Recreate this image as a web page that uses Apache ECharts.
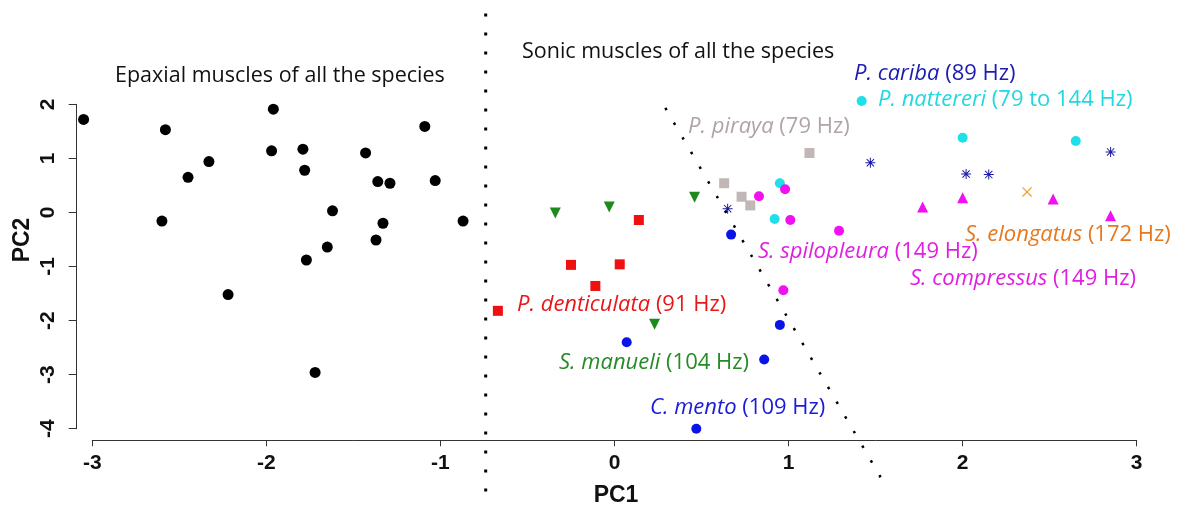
<!DOCTYPE html>
<html>
<head>
<meta charset="utf-8">
<script src="https://cdn.jsdelivr.net/npm/echarts@6/dist/echarts.min.js"></script>
<style>
html,body{margin:0;padding:0;background:#fff;}
#chart{width:1181px;height:508px;}
</style>
</head>
<body>
<div id="chart"></div>
<script>
// ---- Data (PC1, PC2) ----
var epaxial = [
  [-3.05, 1.72], [-2.58, 1.53], [-2.60, -0.16], [-2.45, 0.65], [-2.33, 0.94],
  [-2.22, -1.52], [-1.96, 1.91], [-1.97, 1.14], [-1.79, 1.17], [-1.78, 0.78],
  [-1.77, -0.88], [-1.72, -2.96], [-1.62, 0.03], [-1.65, -0.64], [-1.43, 1.10],
  [-1.36, 0.57], [-1.29, 0.54], [-1.33, -0.20], [-1.37, -0.51], [-1.09, 1.59],
  [-1.03, 0.59], [-0.87, -0.16]
];
var pDenticulata = [[-0.67, -1.82], [-0.25, -0.97], [-0.11, -1.36], [0.03, -0.96], [0.14, -0.14]];
var sManueli = [[-0.34, -0.01], [-0.03, 0.10], [0.46, 0.28], [0.23, -2.07]];
var cMento = [[0.67, -0.41], [0.95, -2.08], [0.86, -2.72], [0.07, -2.40], [0.47, -4.00]];
var pPiraya = [[1.12, 1.10], [0.63, 0.54], [0.73, 0.29], [0.78, 0.13]];
var pNattereri = [[0.95, 0.54], [0.92, -0.12], [1.42, 2.06], [2.00, 1.38], [2.65, 1.32]];
var sSpilopleura = [[0.83, 0.30], [0.98, 0.43], [1.01, -0.14], [1.29, -0.34], [0.97, -1.44]];
var pCariba = [[0.65, 0.07], [1.47, 0.92], [2.02, 0.71], [2.15, 0.70], [2.85, 1.12]];
var sElongatus = [[2.37, 0.38]];
var sCompressus = [[1.77, 0.10], [2.00, 0.27], [2.52, 0.25], [2.85, -0.06]];

// separator lines (data units)
var verticalDivider = [[-0.74, 3.68], [-0.74, -5.32]];
var diagonalDivider = [[0.292, 1.933], [1.56, -5.07]];

var xTicks = [-3, -2, -1, 0, 1, 2, 3];
var yTicks = [-4, -3, -2, -1, 0, 1, 2];

var asterisk = 'path://M4.5 0h1v10h-1zM0 4.5h10v1h-10zM1 1.7L1.7 1L9 8.3L8.3 9zM8.3 1L9 1.7L1.7 9L1 8.3z';
var cross = 'path://M1 1.7L1.7 1L9 8.3L8.3 9zM8.3 1L9 1.7L1.7 9L1 8.3z';

var txtFont = '"Open Sans", sans-serif';
var labSize = 22;

function sc(data, color, symbol, size, rotate) {
  return {
    type: 'scatter', data: data, symbol: symbol, symbolSize: size,
    symbolRotate: rotate || 0, clip: false, silent: true,
    itemStyle: { color: color, opacity: 1 }
  };
}

function lab(x, y, ital, rest, color) {
  return {
    type: 'text', x: x, y: y, silent: true,
    style: {
      text: '{i|' + ital + '} ' + rest,
      fill: color, fontSize: labSize, fontFamily: txtFont,
      align: 'left', verticalAlign: 'middle',
      rich: { i: { fontStyle: 'italic', fill: color, fontSize: labSize, fontFamily: txtFont } }
    }
  };
}

var chart = echarts.init(document.getElementById('chart'), null, { renderer: 'canvas' });
chart.setOption({
  animation: false,
  backgroundColor: '#ffffff',
  grid: { left: 92.3, right: 44.3, top: 104.3, bottom: 79.3 },
  xAxis: {
    type: 'value', min: xTicks[0], max: xTicks[xTicks.length - 1], interval: 1,
    offset: 11.6,
    axisLine: { show: true, onZero: false, lineStyle: { color: '#333', width: 1 } },
    axisTick: { show: true, length: 6, lineStyle: { color: '#333' } },
    axisLabel: { fontSize: 21, fontWeight: 'bold', color: '#111', margin: 12,
                 fontFamily: '"Liberation Sans", Arial, sans-serif' },
    splitLine: { show: false }
  },
  yAxis: {
    type: 'value', min: yTicks[0], max: yTicks[yTicks.length - 1], interval: 1,
    offset: 15.6,
    axisLine: { show: true, onZero: false, lineStyle: { color: '#333', width: 1 } },
    axisTick: { show: true, length: 8, lineStyle: { color: '#333' } },
    axisLabel: { fontSize: 21, fontWeight: 'bold', color: '#111', margin: 18, rotate: 90,
                 fontFamily: '"Liberation Sans", Arial, sans-serif' },
    splitLine: { show: false }
  },
  series: [
    { type: 'line', data: verticalDivider, symbol: 'none', clip: false, silent: true,
      lineStyle: { color: '#000', width: 3, type: [3, 16], cap: 'butt' } },
    { type: 'line', data: diagonalDivider, symbol: 'none', clip: false, silent: true,
      lineStyle: { color: '#000', width: 2.5, type: [2.5, 14.5], cap: 'butt' } },
    sc(epaxial, '#000000', 'circle', 11),
    sc(pDenticulata, '#f01010', 'rect', 10),
    sc(sManueli, '#1e8a1e', 'triangle', 11, 180),
    sc(cMento, '#0a14e6', 'circle', 10),
    sc(pPiraya, '#c2b6b6', 'rect', 10),
    sc(pNattereri, '#1fe0e8', 'circle', 10),
    sc(sSpilopleura, '#f010f0', 'circle', 10),
    sc(pCariba, '#1c1ca8', asterisk, 10),
    sc(sElongatus, '#f0a030', cross, 10),
    sc(sCompressus, '#f010f0', 'triangle', 11)
  ],
  graphic: [
    { type: 'text', x: 115, y: 76, silent: true,
      style: { text: 'Epaxial muscles of all the species', fill: '#111', fontSize: 21.5,
               fontFamily: txtFont, align: 'left', verticalAlign: 'middle' } },
    { type: 'text', x: 522, y: 52, silent: true,
      style: { text: 'Sonic muscles of all the species', fill: '#111', fontSize: 21.5,
               fontFamily: txtFont, align: 'left', verticalAlign: 'middle' } },
    { type: 'text', x: 616, y: 496, silent: true,
      style: { text: 'PC1', fill: '#111', fontSize: 23, fontWeight: 'bold',
               fontFamily: '"Liberation Sans", Arial, sans-serif', align: 'center', verticalAlign: 'middle' } },
    { type: 'text', x: 23, y: 240, rotation: Math.PI / 2, silent: true,
      style: { text: 'PC2', fill: '#111', fontSize: 23, fontWeight: 'bold',
               fontFamily: '"Liberation Sans", Arial, sans-serif', align: 'center', verticalAlign: 'middle' } },
    lab(854, 74, 'P. cariba', '(89 Hz)', '#1c1cb0'),
    lab(878, 100, 'P. nattereri', '(79 to 144 Hz)', '#22d8e0'),
    lab(688, 127, 'P. piraya', '(79 Hz)', '#b0a4a4'),
    lab(758, 252, 'S. spilopleura', '(149 Hz)', '#e020e0'),
    lab(965, 235, 'S. elongatus', '(172 Hz)', '#e8781e'),
    lab(910, 279, 'S. compressus', '(149 Hz)', '#e020e0'),
    lab(517, 305, 'P. denticulata', '(91 Hz)', '#e81818'),
    lab(559, 363, 'S. manueli', '(104 Hz)', '#268a26'),
    lab(650, 408, 'C. mento', '(109 Hz)', '#1a1ad8')
  ]
});
</script>
</body>
</html>
